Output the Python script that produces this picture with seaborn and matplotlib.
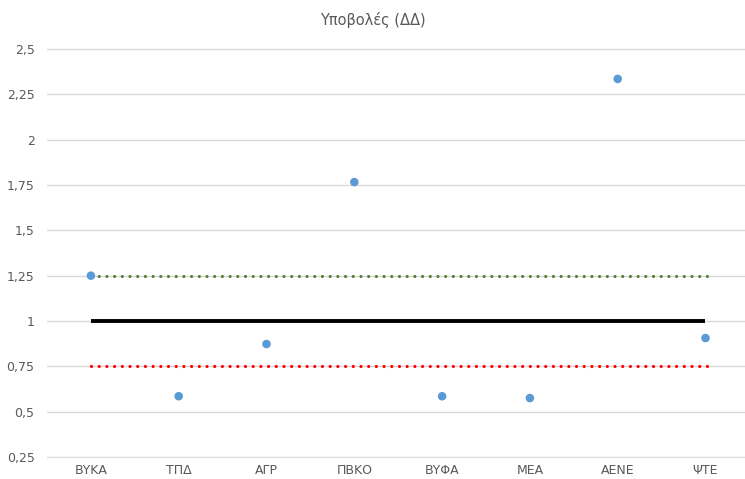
import matplotlib
matplotlib.use("Agg")
import matplotlib.pyplot as plt
import matplotlib.ticker as mticker
import numpy as np
import pandas as pd
import seaborn as sns

categories = ["ΒΥΚΑ", "ΤΠΔ", "ΑΓΡ", "ΠΒΚΟ", "ΒΥΦΑ", "ΜΕΑ", "ΑΕΝΕ", "ΨΤΕ"]
values = [1.25, 0.585, 0.873, 1.766, 0.585, 0.575, 2.335, 0.906]
upper_limit = 1.25
reference = 1.0
lower_limit = 0.75
y_ticks = [0.25, 0.5, 0.75, 1, 1.25, 1.5, 1.75, 2, 2.25, 2.5]

sns.set_theme(style="white")
plt.rcParams["font.family"] = ["Liberation Sans Narrow", "DejaVu Sans"]

data = pd.DataFrame({"pos": np.arange(len(categories)), "value": values})

fig = plt.figure(figsize=(7.45, 4.79), dpi=100)
ax = fig.add_axes([47 / 745, 1 - 458 / 479, 1 - 47 / 745, (458 - 48) / 479])

n = len(categories)
dots = (0, (0.01, 2.4))
for level, col in [(upper_limit, "#548235"), (lower_limit, "#ff0000")]:
    lc = ax.hlines(level, 0, n - 1 + 0.03, colors=col, linestyles=[dots],
                   linewidth=2.3, zorder=2)
    lc.set_capstyle("round")
ax.hlines(reference, 0, n - 1, colors="black", linewidth=2.8, zorder=2)

sns.scatterplot(x="pos", y="value", data=data, ax=ax, color="#5b9bd5",
                s=38, edgecolor="none", zorder=3)

ax.set_xlim(-0.5, 7.45)
ax.set_ylim(0.2445, 2.5055)
ax.set_yticks(y_ticks)
ax.yaxis.set_major_formatter(
    mticker.FuncFormatter(lambda v, p: f"{v:g}".replace(".", ",")))
ax.set_xticks(range(n))
ax.set_xticklabels(categories)
ax.grid(axis="y", color="#d9d9d9", linewidth=1)
ax.set_axisbelow(True)
for sp in ax.spines.values():
    sp.set_visible(False)
ax.tick_params(axis="both", length=0, labelsize=9, colors="#595959")
ax.tick_params(axis="y", pad=9)
ax.tick_params(axis="x", pad=4)
ax.set_xlabel("")
ax.set_ylabel("")

fig.text(0.5, 1 - 20 / 479, "Υποβολές (ΔΔ)", ha="center", va="center",
         fontsize=10.5, color="#595959")

fig.savefig("out.png", dpi=100)
